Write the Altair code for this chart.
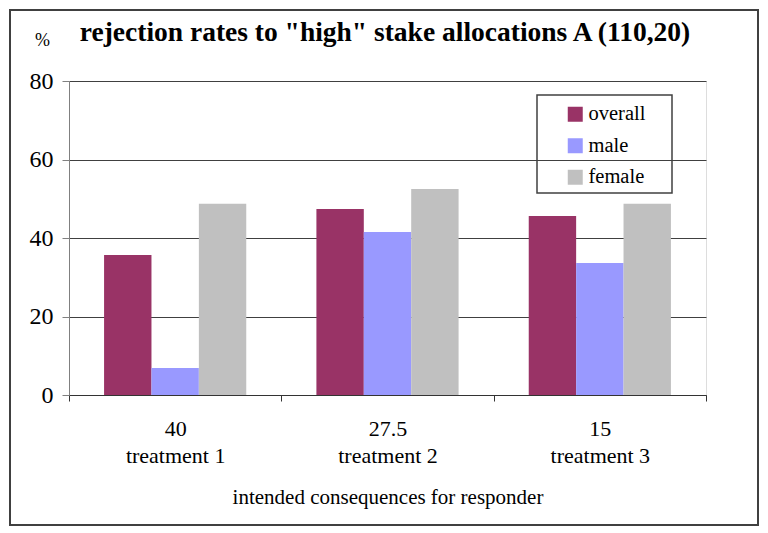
import altair as alt
import pandas as pd

categories = ["40|treatment 1", "27.5|treatment 2", "15|treatment 3"]
series = ["overall", "male", "female"]
overall = [35.7, 47.4, 45.6]
male = [6.9, 41.5, 33.6]
female = [48.7, 52.5, 48.7]
colors = ["#993366", "#9999FF", "#C0C0C0"]
y_ticks = [0, 20, 40, 60, 80]
title_text = 'rejection rates to "high" stake allocations A (110,20)'

rows = []
for i, c in enumerate(categories):
    for s, vals in zip(series, [overall, male, female]):
        rows.append({"cat": c, "series": s, "value": vals[i]})
df = pd.DataFrame(rows)

FONT = "'Liberation Serif', 'Times New Roman', 'DejaVu Serif', serif"
W, H = 637, 314

bars = alt.Chart(df).mark_bar().encode(
    x=alt.X(
        "cat:N",
        sort=categories,
        scale=alt.Scale(paddingInner=0, paddingOuter=0),
        axis=alt.Axis(
            title="intended consequences for responder",
            titleFont=FONT, titleFontSize=21, titleFontWeight="normal", titleColor="black",
            titleY=102, titleBaseline="middle",
            labelExpr="split(datum.label, '|')",
            labelFont=FONT, labelFontSize=22, labelColor="black",
            labelLineHeight=27, labelPadding=17, labelAngle=0,
            tickBand="extent", tickSize=6, tickColor="#333333",
            domainColor="#333333", grid=False,
        ),
    ),
    xOffset=alt.XOffset("series:N", sort=series,
                        scale=alt.Scale(paddingInner=0, paddingOuter=0.74)),
    y=alt.Y(
        "value:Q",
        scale=alt.Scale(domain=[0, 80], nice=False),
        axis=alt.Axis(
            values=y_ticks, title="%", titleAngle=0, titleX=-27, titleY=-41,
            titleAlign="center", titleBaseline="middle",
            titleFont=FONT, titleFontSize=18, titleFontWeight="normal", titleColor="black",
            labelFont=FONT, labelFontSize=24, labelColor="black", labelPadding=9,
            tickSize=7, tickColor="#808080", domainColor="#808080",
            grid=True, gridColor="#404040", gridWidth=1,
        ),
    ),
    color=alt.Color(
        "series:N", sort=series,
        scale=alt.Scale(domain=series, range=colors),
        legend=alt.Legend(
            title=None, orient="none", legendX=496, legendY=23,
            symbolType="square", symbolSize=225, symbolStrokeWidth=0,
            labelFont=FONT, labelFontSize=20.5, labelColor="black",
            labelOffset=3, rowPadding=10.5, padding=0,
        ),
    ),
)

one = alt.Data(values=[{"t": title_text}])
frame = alt.Chart(one).mark_rect(fill=None, stroke="#404040", strokeWidth=2).encode(
    x=alt.value(-59), x2=alt.value(689), y=alt.value(-71), y2=alt.value(444)
)
legend_box = alt.Chart(one).mark_rect(fill=None, stroke="#404040", strokeWidth=1.5).encode(
    x=alt.value(468), x2=alt.value(603), y=alt.value(14), y2=alt.value(112)
)
title = alt.Chart(one).mark_text(
    font=FONT, fontSize=27.5, fontWeight="bold", color="black",
    align="center", baseline="middle",
).encode(text="t:N", x=alt.value(316), y=alt.value(-48))

chart = alt.layer(bars, legend_box, frame, title).properties(
    width=W, height=H,
    autosize=alt.AutoSizeParams(type="none"),
    padding={"left": 61, "top": 73, "right": 54, "bottom": 133},
).configure_view(stroke=None).configure(background="white")

chart.save("out.html", embed_options={"renderer": "svg", "actions": False})
